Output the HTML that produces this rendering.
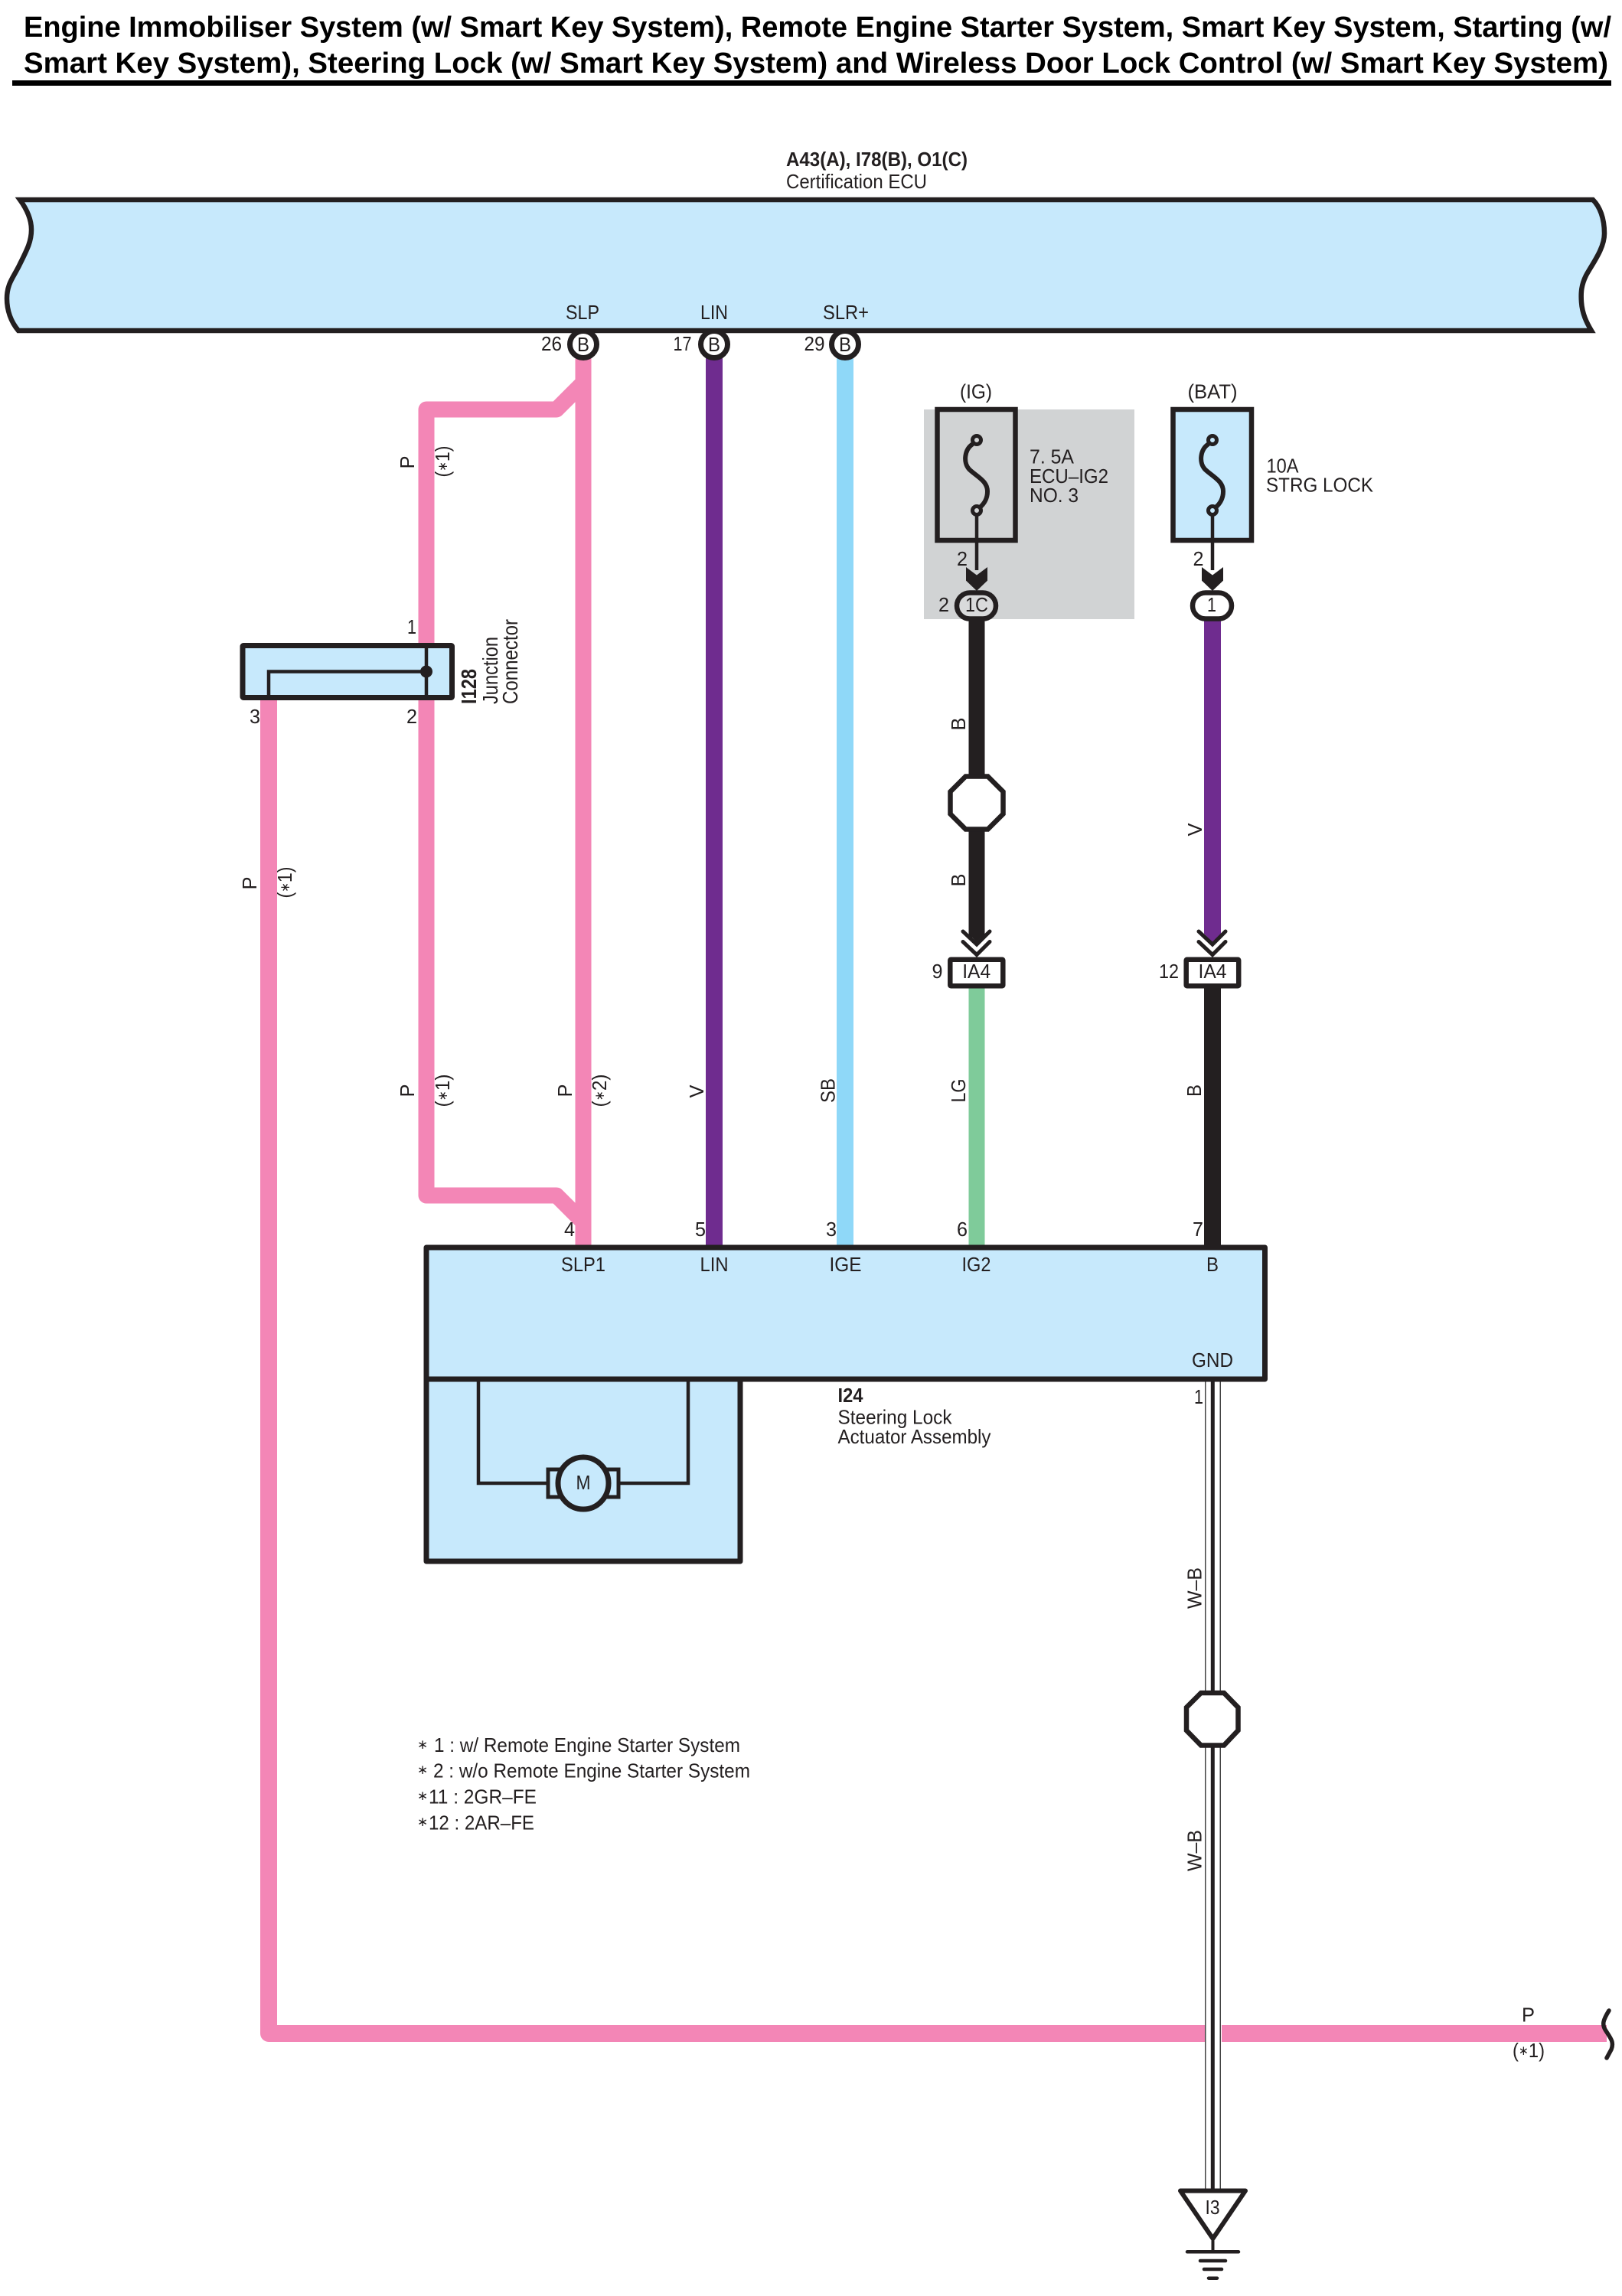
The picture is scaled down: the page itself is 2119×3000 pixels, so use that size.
<!DOCTYPE html>
<html><head><meta charset="utf-8"><style>
html,body{margin:0;padding:0;background:#fff}
svg{display:block}
text{font-family:"Liberation Sans",sans-serif;font-size:26px;fill:#231f20}
.b{font-weight:bold}
.t{font-weight:bold;font-size:38px;fill:#000}
.s{font-size:17px}
</style></head><body>
<svg width="2119" height="3000" viewBox="0 0 2119 3000" xmlns="http://www.w3.org/2000/svg">
<rect width="2119" height="3000" fill="#fff"/>
<!-- title -->
<text class="t" x="31" y="48" textLength="2074" lengthAdjust="spacingAndGlyphs">Engine Immobiliser System (w/ Smart Key System), Remote Engine Starter System, Smart Key System, Starting (w/</text>
<text class="t" x="31" y="95" textLength="2070" lengthAdjust="spacingAndGlyphs">Smart Key System), Steering Lock (w/ Smart Key System) and Wireless Door Lock Control (w/ Smart Key System)</text>
<rect x="16" y="105" width="2089" height="7" fill="#000"/>
<text class="b" x="1027" y="217" textLength="237" lengthAdjust="spacingAndGlyphs">A43(A), I78(B), O1(C)</text>
<text x="1027" y="246" textLength="184" lengthAdjust="spacingAndGlyphs">Certification ECU</text>
<!-- ECU -->
<path d="M26 261 H2081 C2090 270 2096 285 2096 305 C2096 325 2080 345 2072 360 C2066 372 2065 382 2066 395 C2067 410 2073 422 2079 432 H24 C14 420 9 405 9 390 C9 370 18 362 26 345 C36 325 41 315 41 300 C41 285 34 272 26 261 Z" fill="#c7e9fc" stroke="#231f20" stroke-width="6.5"/>
<text x="761" y="417" text-anchor="middle" textLength="44" lengthAdjust="spacingAndGlyphs">SLP</text>
<text x="933" y="417" text-anchor="middle" textLength="36" lengthAdjust="spacingAndGlyphs">LIN</text>
<text x="1105" y="417" text-anchor="middle" textLength="60" lengthAdjust="spacingAndGlyphs">SLR+</text>
<!-- wires -->
<g fill="none" stroke-linejoin="round">
<path d="M762 468 V1628" stroke="#f386b6" stroke-width="21"/>
<path d="M762 500 L727 535 H557 V1562 H727 L762 1597" stroke="#f386b6" stroke-width="21"/>
<path d="M351 912 V2657 H1574 M1596 2657 H2099" stroke="#f386b6" stroke-width="22"/>
<path d="M933 468 V1628" stroke="#6f2c8f" stroke-width="22"/>
<path d="M1104 468 V1628" stroke="#8fd8f8" stroke-width="22"/>
<path d="M1276 1291 V1630" stroke="#7fcb9a" stroke-width="21"/>
<path d="M1584 1291 V1630" stroke="#231f20" stroke-width="22"/>
<path d="M1276 809 V1225" stroke="#231f20" stroke-width="21"/>
<path d="M1584 809 V1220" stroke="#6f2c8f" stroke-width="22"/>
</g>
<polygon points="1265.5,1220 1286.5,1220 1276,1231" fill="#231f20"/>
<polygon points="1573,1220 1595,1220 1584,1231" fill="#6f2c8f"/>
<!-- ground wire -->
<rect x="1574" y="1804" width="1.5" height="1058" fill="#444"/>
<rect x="1593.5" y="1804" width="1.5" height="1058" fill="#444"/>
<rect x="1581.8" y="1804" width="5" height="1058" fill="#231f20"/>
<!-- pin circles -->
<g fill="#fff" stroke="#231f20" stroke-width="7">
<circle cx="762" cy="450" r="17.5"/><circle cx="933" cy="450" r="17.5"/><circle cx="1104" cy="450" r="17.5"/>
</g>
<g text-anchor="middle">
<text x="762" y="459" textLength="16" lengthAdjust="spacingAndGlyphs">B</text>
<text x="933" y="459" textLength="16" lengthAdjust="spacingAndGlyphs">B</text>
<text x="1104" y="459" textLength="16" lengthAdjust="spacingAndGlyphs">B</text>
<text x="720.5" y="458" textLength="27" lengthAdjust="spacingAndGlyphs">26</text>
<text x="891.5" y="458" textLength="24" lengthAdjust="spacingAndGlyphs">17</text>
<text x="1064" y="458" textLength="27" lengthAdjust="spacingAndGlyphs">29</text>
</g>
<!-- junction connector -->
<rect x="317" y="843.5" width="273.5" height="68" rx="1" fill="#c7e9fc" stroke="#231f20" stroke-width="7"/>
<path d="M351 911 V877.5 H557 M557 844 V911" fill="none" stroke="#231f20" stroke-width="4.5"/>
<circle cx="557" cy="877.5" r="8" fill="#231f20"/>
<g text-anchor="middle">
<text x="538" y="828" textLength="12" lengthAdjust="spacingAndGlyphs">1</text>
<text x="538" y="945" textLength="14" lengthAdjust="spacingAndGlyphs">2</text>
<text x="333" y="945" textLength="14" lengthAdjust="spacingAndGlyphs">3</text>
</g>
<text class="b" style="font-size:28px" transform="translate(622 920) rotate(-90)" textLength="46" lengthAdjust="spacingAndGlyphs">I128</text>
<text style="font-size:28px" transform="translate(650 920) rotate(-90)" textLength="88" lengthAdjust="spacingAndGlyphs">Junction</text>
<text style="font-size:28px" transform="translate(676 920) rotate(-90)" textLength="111" lengthAdjust="spacingAndGlyphs">Connector</text>
<!-- rotated wire labels -->
<g text-anchor="middle">
<text transform="translate(541 604) rotate(-90)" textLength="17" lengthAdjust="spacingAndGlyphs">P</text>
<text transform="translate(587 603) rotate(-90)" textLength="41" lengthAdjust="spacingAndGlyphs">(<tspan class="s" dy="-3">∗</tspan><tspan dy="3">1)</tspan></text>
<text transform="translate(335 1154) rotate(-90)" textLength="17" lengthAdjust="spacingAndGlyphs">P</text>
<text transform="translate(381 1153) rotate(-90)" textLength="41" lengthAdjust="spacingAndGlyphs">(<tspan class="s" dy="-3">∗</tspan><tspan dy="3">1)</tspan></text>
<text transform="translate(541 1425) rotate(-90)" textLength="17" lengthAdjust="spacingAndGlyphs">P</text>
<text transform="translate(587 1425) rotate(-90)" textLength="43" lengthAdjust="spacingAndGlyphs">(<tspan class="s" dy="-3">∗</tspan><tspan dy="3">1)</tspan></text>
<text transform="translate(747 1425) rotate(-90)" textLength="17" lengthAdjust="spacingAndGlyphs">P</text>
<text transform="translate(792 1425) rotate(-90)" textLength="43" lengthAdjust="spacingAndGlyphs">(<tspan class="s" dy="-3">∗</tspan><tspan dy="3">2)</tspan></text>
<text transform="translate(919 1426) rotate(-90)" textLength="17" lengthAdjust="spacingAndGlyphs">V</text>
<text transform="translate(1090.5 1425) rotate(-90)" textLength="32" lengthAdjust="spacingAndGlyphs">SB</text>
<text transform="translate(1261 1425) rotate(-90)" textLength="31" lengthAdjust="spacingAndGlyphs">LG</text>
<text transform="translate(1261 946) rotate(-90)" textLength="17" lengthAdjust="spacingAndGlyphs">B</text>
<text transform="translate(1261 1150) rotate(-90)" textLength="17" lengthAdjust="spacingAndGlyphs">B</text>
<text transform="translate(1570 1084) rotate(-90)" textLength="17" lengthAdjust="spacingAndGlyphs">V</text>
<text transform="translate(1569 1425) rotate(-90)" textLength="16" lengthAdjust="spacingAndGlyphs">B</text>
<text transform="translate(1569.5 2075) rotate(-90)" textLength="54" lengthAdjust="spacingAndGlyphs">W–B</text>
<text transform="translate(1569.5 2418) rotate(-90)" textLength="54" lengthAdjust="spacingAndGlyphs">W–B</text>
</g>
<!-- fuses -->
<rect x="1207" y="535" width="275" height="274" fill="#d1d3d4"/>
<rect x="1224.5" y="535" width="102" height="171" fill="#d1d3d4" stroke="#231f20" stroke-width="6.5"/>
<rect x="1532.5" y="535" width="102.5" height="171" fill="#c7e9fc" stroke="#231f20" stroke-width="6.5"/>
<g fill="none" stroke="#231f20">
<path d="M1271 580 C1260 587 1258 604 1266 613 C1275 622 1290 628 1290 642 C1290 652 1285 659 1280 663" stroke-width="6"/>
<circle cx="1276" cy="575" r="5.5" stroke-width="5"/><circle cx="1276" cy="667" r="5.5" stroke-width="5"/>
<path d="M1276 673 V745" stroke-width="4.5"/>
</g>
<g fill="none" stroke="#231f20" transform="translate(308 0)">
<path d="M1271 580 C1260 587 1258 604 1266 613 C1275 622 1290 628 1290 642 C1290 652 1285 659 1280 663" stroke-width="6"/>
<circle cx="1276" cy="575" r="5.5" stroke-width="5"/><circle cx="1276" cy="667" r="5.5" stroke-width="5"/>
<path d="M1276 673 V745" stroke-width="4.5"/>
</g>
<polygon points="1262,741 1276,751.5 1290,741 1290,758.6 1276,772 1262,758.6" fill="#231f20"/>
<polygon points="1570,741 1584,751.5 1598,741 1598,758.6 1584,772 1570,758.6" fill="#231f20"/>
<rect x="1250" y="774.5" width="51" height="34" rx="17" fill="#d9dadb" stroke="#231f20" stroke-width="6.5"/>
<rect x="1558" y="774.5" width="51" height="34" rx="17" fill="#fff" stroke="#231f20" stroke-width="6.5"/>
<g text-anchor="middle">
<text x="1275" y="520.5" textLength="42" lengthAdjust="spacingAndGlyphs">(IG)</text>
<text x="1584" y="520.5" textLength="65" lengthAdjust="spacingAndGlyphs">(BAT)</text>
<text x="1257" y="739" textLength="14" lengthAdjust="spacingAndGlyphs">2</text>
<text x="1565.5" y="739" textLength="14" lengthAdjust="spacingAndGlyphs">2</text>
<text x="1276" y="799" textLength="30" lengthAdjust="spacingAndGlyphs">1C</text>
<text x="1233" y="799" textLength="14" lengthAdjust="spacingAndGlyphs">2</text>
<text x="1583" y="799" textLength="12" lengthAdjust="spacingAndGlyphs">1</text>
</g>
<text x="1345" y="605.5" textLength="58" lengthAdjust="spacingAndGlyphs">7. 5A</text>
<text x="1345" y="631" textLength="103" lengthAdjust="spacingAndGlyphs">ECU–IG2</text>
<text x="1345" y="656" textLength="64" lengthAdjust="spacingAndGlyphs">NO. 3</text>
<text x="1654.5" y="617.5" textLength="42" lengthAdjust="spacingAndGlyphs">10A</text>
<text x="1654" y="642.5" textLength="140" lengthAdjust="spacingAndGlyphs">STRG LOCK</text>
<!-- octagons -->
<polygon points="1261.5,1014.5 1290.5,1014.5 1310.5,1034.5 1310.5,1063.5 1290.5,1083.5 1261.5,1083.5 1241.5,1063.5 1241.5,1034.5" fill="#fff" stroke="#231f20" stroke-width="6.5"/>
<polygon points="1569,2212 1599,2212 1617.5,2231 1617.5,2261 1599,2280.5 1569,2280.5 1550,2261 1550,2231" fill="#fff" stroke="#231f20" stroke-width="6.5"/>
<!-- double chevrons -->
<g fill="none" stroke="#231f20" stroke-width="5" stroke-linecap="round" stroke-linejoin="miter">
<path d="M1258 1217 L1276 1234 L1293 1217 M1258 1230.5 L1276 1247.5 L1293 1230.5"/>
<path d="M1566 1217 L1584 1234 L1601 1217 M1566 1230.5 L1584 1247.5 L1601 1230.5"/>
</g>
<!-- IA4 -->
<rect x="1241.3" y="1253.7" width="69" height="34.5" rx="1" fill="#fff" stroke="#231f20" stroke-width="6.5"/>
<rect x="1549.7" y="1253.7" width="68.5" height="34.5" rx="1" fill="#fff" stroke="#231f20" stroke-width="6.5"/>
<g text-anchor="middle">
<text x="1275.7" y="1278" textLength="37" lengthAdjust="spacingAndGlyphs">IA4</text>
<text x="1584" y="1278" textLength="37" lengthAdjust="spacingAndGlyphs">IA4</text>
<text x="1224.5" y="1278" textLength="14" lengthAdjust="spacingAndGlyphs">9</text>
<text x="1527" y="1278" textLength="26" lengthAdjust="spacingAndGlyphs">12</text>
<text x="744" y="1615" textLength="14" lengthAdjust="spacingAndGlyphs">4</text>
<text x="915" y="1615" textLength="14" lengthAdjust="spacingAndGlyphs">5</text>
<text x="1086" y="1615" textLength="14" lengthAdjust="spacingAndGlyphs">3</text>
<text x="1257" y="1615" textLength="14" lengthAdjust="spacingAndGlyphs">6</text>
<text x="1565" y="1615" textLength="14" lengthAdjust="spacingAndGlyphs">7</text>
<text x="1566" y="1834" textLength="12" lengthAdjust="spacingAndGlyphs">1</text>
</g>
<!-- actuator -->
<rect x="557" y="1630" width="1095.5" height="172" fill="#c7e9fc" stroke="#231f20" stroke-width="7" stroke-linejoin="round"/>
<rect x="557" y="1802" width="410" height="238" fill="#c7e9fc" stroke="#231f20" stroke-width="7" stroke-linejoin="round"/>
<path d="M625 1802 V1938 H716 M899 1802 V1938 H806" fill="none" stroke="#231f20" stroke-width="4.5"/>
<rect x="716" y="1920" width="15" height="36" fill="#c7e9fc" stroke="#231f20" stroke-width="5"/>
<rect x="793" y="1920" width="15" height="36" fill="#c7e9fc" stroke="#231f20" stroke-width="5"/>
<ellipse cx="762" cy="1938" rx="33" ry="34" fill="#c7e9fc" stroke="#231f20" stroke-width="7"/>
<g text-anchor="middle">
<text x="762" y="1946" textLength="19" lengthAdjust="spacingAndGlyphs">M</text>
<text x="762" y="1661" textLength="58" lengthAdjust="spacingAndGlyphs">SLP1</text>
<text x="933" y="1661" textLength="37" lengthAdjust="spacingAndGlyphs">LIN</text>
<text x="1104.5" y="1661" textLength="42" lengthAdjust="spacingAndGlyphs">IGE</text>
<text x="1275.5" y="1661" textLength="38" lengthAdjust="spacingAndGlyphs">IG2</text>
<text x="1584" y="1661" textLength="16" lengthAdjust="spacingAndGlyphs">B</text>
<text x="1584" y="1786" textLength="54" lengthAdjust="spacingAndGlyphs">GND</text>
</g>
<text class="b" x="1094.5" y="1832" textLength="33" lengthAdjust="spacingAndGlyphs">I24</text>
<text x="1094.5" y="1860.5" textLength="149" lengthAdjust="spacingAndGlyphs">Steering Lock</text>
<text x="1094.5" y="1886" textLength="200" lengthAdjust="spacingAndGlyphs">Actuator Assembly</text>
<!-- legend -->
<text class="s" x="545" y="2285">∗</text><text x="567" y="2289" textLength="400" lengthAdjust="spacingAndGlyphs">1 : w/ Remote Engine Starter System</text>
<text class="s" x="545" y="2318">∗</text><text x="566" y="2322.5" textLength="414" lengthAdjust="spacingAndGlyphs">2 : w/o Remote Engine Starter System</text>
<text class="s" x="545" y="2352">∗</text><text x="560" y="2356.5" textLength="141" lengthAdjust="spacingAndGlyphs">11 : 2GR–FE</text>
<text class="s" x="545" y="2386">∗</text><text x="560" y="2390.5" textLength="138" lengthAdjust="spacingAndGlyphs">12 : 2AR–FE</text>
<!-- right end -->
<path d="M2102 2627 C2094 2640 2093 2645 2097 2652 C2104 2663 2109 2668 2105 2678 L2099 2689" fill="none" stroke="#231f20" stroke-width="5.5" stroke-linecap="round"/>
<text x="1996.5" y="2641.5" text-anchor="middle" textLength="17" lengthAdjust="spacingAndGlyphs">P</text>
<text x="1997" y="2688" text-anchor="middle" textLength="42" lengthAdjust="spacingAndGlyphs">(<tspan class="s" dy="-3">∗</tspan><tspan dy="3">1)</tspan></text>
<!-- ground symbol -->
<polygon points="1542,2862.5 1627,2862.5 1584.5,2925" fill="#fff" stroke="#231f20" stroke-width="6" stroke-linejoin="round"/>
<text x="1584" y="2893" text-anchor="middle" textLength="19" lengthAdjust="spacingAndGlyphs">I3</text>
<path d="M1584.5 2925 V2942" stroke="#231f20" stroke-width="4"/>
<g stroke="#231f20" stroke-width="4.5" stroke-linecap="round">
<path d="M1551 2942.3 H1618"/><path d="M1568 2954 H1601"/><path d="M1573 2965 H1596"/><path d="M1579 2976.7 H1590"/>
</g>
</svg>
</body></html>
